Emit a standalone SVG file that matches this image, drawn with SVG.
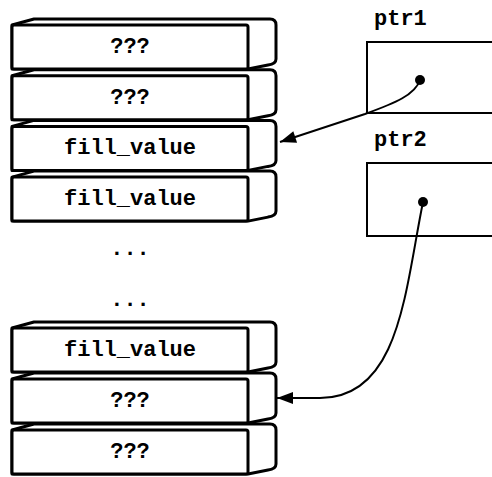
<svg xmlns="http://www.w3.org/2000/svg" width="492" height="477" viewBox="0 0 492 477">
<style>
.blk{fill:#fff;stroke:#000;stroke-width:3;stroke-linejoin:round}
.t{font-family:"Liberation Mono","Courier New",monospace;font-weight:bold;font-size:22px;fill:#000}
.c{text-anchor:middle}
.box{fill:#fff;stroke:#000;stroke-width:2}
.con{fill:none;stroke:#000;stroke-width:2}
</style>
<defs>
<g id="block">
<path class="blk" d="M12,0 L34,-6 L270,-6 Q276,-6 276,0 L276,34 Q276,39 268,40 L248,44 L12,44 Z"/>
<rect class="blk" x="12" y="0" width="236" height="44" rx="2"/>
</g>
<marker id="ah" markerUnits="userSpaceOnUse" markerWidth="20" markerHeight="16" viewBox="0 0 20 16" refX="18" refY="8" orient="auto">
<path d="M2,2 L18,8 L2,14 Z" fill="#000"/>
</marker>
</defs>
<rect width="492" height="477" fill="#fff"/>
<g id="cell1"><use href="#block" transform="translate(0,25)"/><text class="t c" x="130" y="53">???</text></g>
<g id="cell2"><use href="#block" transform="translate(0,75.7)"/><text class="t c" x="130" y="103.5">???</text></g>
<g id="cell3"><use href="#block" transform="translate(0,126.4)"/><text class="t c" x="130" y="154">fill_value</text></g>
<g id="cell4"><use href="#block" transform="translate(0,177.1)"/><text class="t c" x="130" y="205">fill_value</text></g>
<g id="dots1"><text class="t c" x="130" y="255">...</text></g>
<g id="dots2"><text class="t c" x="130" y="306">...</text></g>
<g id="cell5"><use href="#block" transform="translate(0,328)"/><text class="t c" x="130" y="356">fill_value</text></g>
<g id="cell6"><use href="#block" transform="translate(0,379)"/><text class="t c" x="130" y="407">???</text></g>
<g id="cell7"><use href="#block" transform="translate(0,430)"/><text class="t c" x="130" y="458">???</text></g>
<g id="ptr1">
<text class="t" x="374" y="25">ptr1</text>
<rect class="box" x="367" y="42" width="140" height="71"/>
<circle cx="420" cy="80" r="5" fill="#000"/>
</g>
<g id="ptr2">
<text class="t" x="374" y="146">ptr2</text>
<rect class="box" x="367" y="163" width="140" height="73"/>
<circle cx="423" cy="202" r="5" fill="#000"/>
</g>
<g id="connectors">
<path class="con" d="M420,80 C415,95 395,103 365,114 L280,142" marker-end="url(#ah)"/>
<path class="con" d="M423,202 C405,290 400,398 320,398 L277,398" marker-end="url(#ah)"/>
</g>
</svg>
